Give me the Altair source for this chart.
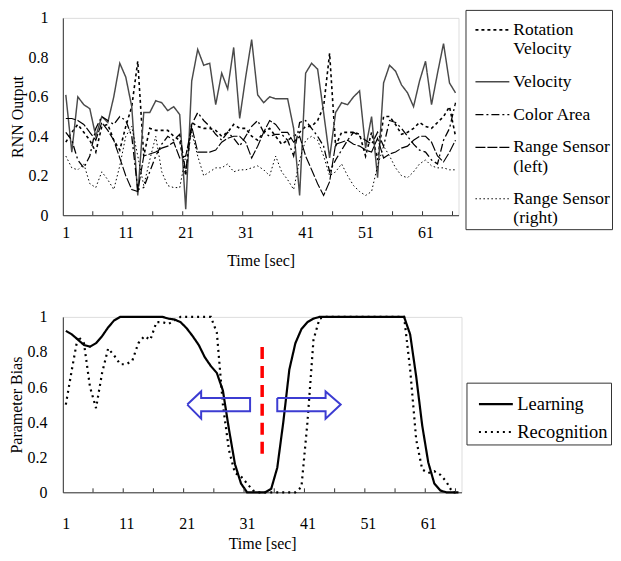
import altair as alt
import pandas as pd

# ---------------- data ----------------
seconds = list(range(1, 67))

rotation_velocity = [0.37, 0.42, 0.46, 0.42, 0.38, 0.32, 0.45, 0.46, 0.38, 0.33,
                     0.45, 0.55, 0.78, 0.30, 0.44, 0.43, 0.43, 0.43, 0.40, 0.38,
                     0.20, 0.47, 0.45, 0.44, 0.44, 0.43, 0.40, 0.42, 0.46, 0.44,
                     0.44, 0.40, 0.38, 0.42, 0.44, 0.40, 0.36, 0.38, 0.40, 0.42,
                     0.45, 0.45, 0.48, 0.55, 0.82, 0.35, 0.42, 0.42, 0.42, 0.41,
                     0.30, 0.42, 0.28, 0.50, 0.50, 0.46, 0.41, 0.42, 0.44, 0.47,
                     0.45, 0.44, 0.47, 0.50, 0.55, 0.40]
velocity = [0.61, 0.32, 0.60, 0.56, 0.54, 0.40, 0.50, 0.47, 0.60, 0.77,
            0.70, 0.55, 0.10, 0.52, 0.52, 0.58, 0.57, 0.53, 0.55, 0.51,
            0.03, 0.68, 0.84, 0.76, 0.77, 0.56, 0.72, 0.64, 0.85, 0.49,
            0.70, 0.89, 0.61, 0.57, 0.60, 0.59, 0.59, 0.59, 0.44, 0.10,
            0.72, 0.77, 0.74, 0.52, 0.29, 0.52, 0.57, 0.56, 0.60, 0.63,
            0.34, 0.50, 0.19, 0.67, 0.76, 0.73, 0.66, 0.62, 0.55, 0.68,
            0.78, 0.56, 0.72, 0.87, 0.67, 0.62]
color_area = [0.42, 0.38, 0.28, 0.24, 0.30, 0.44, 0.50, 0.48, 0.46, 0.50,
              0.48, 0.40, 0.13, 0.14, 0.22, 0.30, 0.36, 0.40, 0.38, 0.41,
              0.22, 0.46, 0.52, 0.48, 0.45, 0.41, 0.38, 0.42, 0.39, 0.35,
              0.40, 0.45, 0.48, 0.42, 0.40, 0.41, 0.41, 0.38, 0.30, 0.47,
              0.48, 0.44, 0.40, 0.35, 0.22, 0.28, 0.33, 0.38, 0.42, 0.40,
              0.38, 0.36, 0.42, 0.35, 0.48, 0.47, 0.44, 0.40, 0.36, 0.33,
              0.32, 0.28, 0.26, 0.38, 0.44, 0.57]
range_left = [0.49, 0.49, 0.48, 0.46, 0.42, 0.38, 0.47, 0.43, 0.38, 0.29,
              0.20, 0.13, 0.12, 0.30, 0.31, 0.32, 0.34, 0.35, 0.37, 0.29,
              0.30, 0.45, 0.32, 0.32, 0.32, 0.33, 0.37, 0.39, 0.40, 0.40,
              0.37, 0.29, 0.35, 0.42, 0.48, 0.46, 0.42, 0.42, 0.37, 0.40,
              0.30, 0.23, 0.16, 0.10, 0.17, 0.36, 0.37, 0.38, 0.36, 0.35,
              0.33, 0.32, 0.39, 0.29, 0.31, 0.32, 0.34, 0.35, 0.38, 0.40,
              0.40, 0.37, 0.30, 0.27, 0.32, 0.38]
range_right = [0.30, 0.24, 0.23, 0.26, 0.16, 0.14, 0.22, 0.18, 0.13, 0.25,
               0.40, 0.45, 0.30, 0.15, 0.28, 0.40, 0.22, 0.15, 0.14, 0.14,
               0.30, 0.42, 0.30, 0.20, 0.22, 0.24, 0.24, 0.26, 0.22, 0.23,
               0.23, 0.24, 0.25, 0.23, 0.20, 0.30, 0.22, 0.18, 0.13, 0.28,
               0.38, 0.40, 0.38, 0.30, 0.20, 0.22, 0.26, 0.20, 0.15, 0.12,
               0.10, 0.12, 0.25, 0.35, 0.30, 0.24, 0.20, 0.19, 0.22, 0.26,
               0.28, 0.25, 0.24, 0.24, 0.23, 0.23]

learning = [0.92, 0.90, 0.87, 0.84, 0.83, 0.85, 0.89, 0.94, 0.98,
            1.0, 1.0, 1.0, 1.0, 1.0, 1.0, 1.0, 1.0,
            0.99, 0.985, 0.97, 0.935, 0.89, 0.84, 0.77, 0.72, 0.68, 0.58,
            0.36, 0.16, 0.05, 0.0, 0.0, 0.0, 0.0, 0.02, 0.14, 0.40, 0.70,
            0.85, 0.93, 0.97, 0.99,
            1.0, 1.0, 1.0, 1.0, 1.0, 1.0, 1.0, 1.0, 1.0, 1.0, 1.0, 1.0, 1.0, 1.0, 1.0,
            0.90, 0.66, 0.38, 0.17, 0.05, 0.01, 0.0, 0.0, 0.0]
recognition = [0.50, 0.70, 0.89, 0.85, 0.60, 0.48, 0.68, 0.82, 0.78, 0.73,
               0.73, 0.75, 0.85, 0.89, 0.87, 0.97, 0.97, 0.96, 0.98,
               1.0, 1.0, 1.0, 1.0, 1.0, 1.0,
               0.91, 0.50, 0.24, 0.11, 0.09, 0.05, 0.01,
               0.0, 0.0, 0.0, 0.0, 0.0, 0.0, 0.0,
               0.03, 0.40, 0.87, 0.99,
               1.0, 1.0, 1.0, 1.0, 1.0, 1.0, 1.0, 1.0, 1.0, 1.0, 1.0, 1.0, 1.0, 1.0,
               0.70, 0.30, 0.13, 0.11, 0.12, 0.10, 0.06, 0.0, 0.0]

top_names = ["Rotation\nVelocity", "Velocity", "Color Area",
             "Range Sensor\n(left)", "Range Sensor\n(right)"]
top_series = [rotation_velocity, velocity, color_area, range_left, range_right]
bottom_names = ["Learning", "Recognition"]
bottom_series = [learning, recognition]

x_label_values = [1, 11, 21, 31, 41, 51, 61]
x_tick_values = [5.5, 10.5, 15.5, 20.5, 25.5, 30.5, 35.5, 40.5, 45.5, 50.5, 55.5, 60.5, 65.5]
y_values = [0, 0.2, 0.4, 0.6, 0.8, 1]

# boundary marker and arrows (data coordinates)
boundary_t = [33.5]
boundary_lo = [0.22]
boundary_hi = [0.85]
arrow_id = ["left"] * 8 + ["right"] * 8
arrow_order = list(range(8)) + list(range(8))
arrow_t = [21.1, 23.4, 23.4, 31.5, 31.5, 23.4, 23.4, 21.1,
           36.0, 44.0, 44.0, 46.5, 44.0, 44.0, 36.0, 36.0]
arrow_v = [0.50, 0.575, 0.538, 0.538, 0.462, 0.462, 0.42, 0.50,
           0.538, 0.538, 0.575, 0.50, 0.42, 0.462, 0.462, 0.538]

# ---------------- styles ----------------
FONT = "Liberation Serif"
top_dash = [[3, 3], [1, 0], [8, 3, 2, 3], [10, 2], [1.5, 2.5]]
top_width = [1.6, 1.0, 1.0, 2.5, 1.0]
top_color = ["#000000", "#4a4a4a", "#000000", "#000000", "#000000"]
bottom_dash = [[1, 0], [2, 4]]
bottom_width = [2.2, 2.2]
bottom_color = ["#000000", "#000000"]

top_df = pd.DataFrame({
    "t": seconds * len(top_names),
    "v": sum(top_series, []),
    "series": [n for n in top_names for _ in seconds],
})
bottom_df = pd.DataFrame({
    "t": seconds * len(bottom_names),
    "v": sum(bottom_series, []),
    "series": [n for n in bottom_names for _ in seconds],
})
ticks_df = pd.DataFrame({"tk": x_tick_values})
boundary_df = pd.DataFrame({"t": boundary_t, "lo": boundary_lo, "hi": boundary_hi})
arrow_df = pd.DataFrame({"id": arrow_id, "o": arrow_order, "t": arrow_t, "v": arrow_v})

xscale = alt.Scale(domain=[0.5, 66.5], nice=False, zero=False)
yscale = alt.Scale(domain=[0, 1], nice=False)


def x_axis(label_pad, title_pad):
    return alt.Axis(values=x_label_values, ticks=False, grid=False,
                    labelFont=FONT, labelFontSize=16, labelColor="black",
                    labelPadding=label_pad, labelOverlap=False, title="Time [sec]",
                    titleFont=FONT, titleFontSize=16, titleFontWeight="normal",
                    titleColor="black", titlePadding=title_pad, domainColor="#333333")


def y_axis(title, label_pad):
    return alt.Axis(values=y_values, format="~g", ticks=False, grid=False,
                    labelFont=FONT, labelFontSize=16, labelColor="black",
                    labelPadding=label_pad, labelOverlap=False, title=title,
                    titleFont=FONT, titleFontSize=16, titleFontWeight="normal",
                    titleColor="black", titlePadding=2, domainColor="#333333")


def legend(lx, ly, pad, row_pad, sym, sym_off, fsize):
    return alt.Legend(title=None, orient="none", legendX=lx, legendY=ly,
                      strokeColor="#333333", fillColor="white", padding=pad,
                      rowPadding=row_pad, symbolType="stroke", symbolSize=sym,
                      symbolOffset=sym_off, labelFont=FONT, labelFontSize=fsize,
                      labelColor="black", labelOffset=3, labelLimit=220,
                      labelExpr="split(datum.label, '\\n')")


TOP_W, TOP_H = 397, 198
BOT_W, BOT_H = 400, 176

# ---------- top panel ----------
tx = x_axis(9, 12)
ty = y_axis("RNN Output", 15)
top_leg = legend(404, -8, 2, 6, 1156, 7, 17.5)
top_lines = alt.Chart(top_df).mark_line().encode(
    x=alt.X("t:Q", scale=xscale, axis=tx),
    y=alt.Y("v:Q", scale=yscale, axis=ty),
    color=alt.Color("series:N", scale=alt.Scale(domain=top_names, range=top_color),
                    legend=top_leg),
    strokeDash=alt.StrokeDash("series:N", scale=alt.Scale(domain=top_names, range=top_dash),
                              legend=top_leg),
    strokeWidth=alt.StrokeWidth("series:N", scale=alt.Scale(domain=top_names, range=top_width),
                                legend=top_leg),
)
top_ticks = alt.Chart(ticks_df).mark_rule(color="#333333").encode(
    x=alt.X("tk:Q", scale=xscale, axis=tx), y=alt.value(TOP_H), y2=alt.value(TOP_H - 4))
top = alt.layer(top_lines, top_ticks).properties(width=TOP_W, height=TOP_H)

# ---------- bottom panel ----------
bx = x_axis(23, 4)
by = y_axis("Parameter Bias", 16)
bot_leg = legend(405, 66, 3, -7, 1156, 8, 18.5)
bot_lines = alt.Chart(bottom_df).mark_line().encode(
    x=alt.X("t:Q", scale=xscale, axis=bx),
    y=alt.Y("v:Q", scale=yscale, axis=by),
    color=alt.Color("series:N", scale=alt.Scale(domain=bottom_names, range=bottom_color),
                    legend=bot_leg),
    strokeDash=alt.StrokeDash("series:N", scale=alt.Scale(domain=bottom_names, range=bottom_dash),
                              legend=bot_leg),
    strokeWidth=alt.StrokeWidth("series:N", scale=alt.Scale(domain=bottom_names, range=bottom_width),
                                legend=bot_leg),
)
bot_ticks = alt.Chart(ticks_df).mark_rule(color="#333333").encode(
    x=alt.X("tk:Q", scale=xscale, axis=bx), y=alt.value(BOT_H), y2=alt.value(BOT_H - 4))
boundary = alt.Chart(boundary_df).mark_rule(color="#ff0000", strokeWidth=3.5,
                                            strokeDash=[12, 7]).encode(
    x=alt.X("t:Q", scale=xscale, axis=bx),
    y=alt.Y("lo:Q", scale=yscale, axis=by), y2="hi:Q")
arrows = alt.Chart(arrow_df).mark_line(color="#3c3cd2", strokeWidth=2).encode(
    x=alt.X("t:Q", scale=xscale, axis=bx),
    y=alt.Y("v:Q", scale=yscale, axis=by),
    detail="id:N", order="o:Q")
bottom = alt.layer(bot_lines, bot_ticks, boundary, arrows).properties(width=BOT_W, height=BOT_H)

chart = alt.vconcat(top, bottom, spacing=39).resolve_scale(
    color="independent", strokeDash="independent", strokeWidth="independent"
).resolve_legend(color="independent", strokeDash="independent", strokeWidth="independent").properties(
    padding={"left": 0, "top": 0, "right": 0, "bottom": 0}
).configure_view(stroke="#808080", strokeWidth=1).configure(background="white")

chart.save("out.html", embed_options={"renderer": "svg", "actions": False})
